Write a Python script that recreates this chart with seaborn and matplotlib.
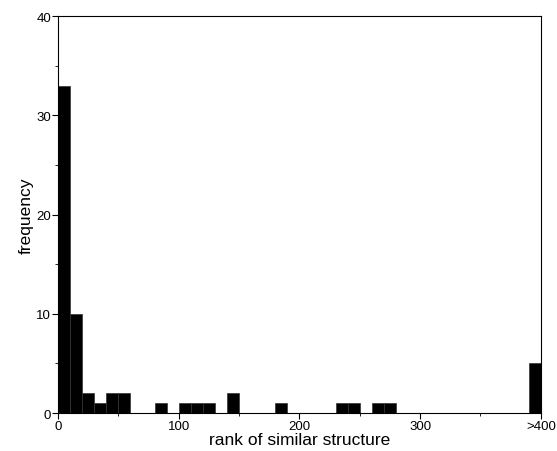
import numpy as np
import pandas as pd
import matplotlib
matplotlib.use('Agg')
import matplotlib.pyplot as plt
import seaborn as sns
from matplotlib.ticker import MultipleLocator

sns.set_style('ticks')
plt.rcParams['font.family'] = ['Liberation Sans', 'DejaVu Sans']

# bin starts (width 10) and counts
bin_left = [0, 10, 20, 30, 40, 50, 80, 100, 110, 120, 140, 180, 230, 240, 260, 270, 390]
counts = [33, 10, 2, 1, 2, 2, 1, 1, 1, 1, 2, 1, 1, 1, 1, 1, 5]
xtick_vals = [0, 100, 200, 300, 400]
xtick_labels = ['0', '100', '200', '300', '>400']

df = pd.DataFrame({'mid': np.array(bin_left) + 5, 'n': counts})

fig = plt.figure(figsize=(5.57, 4.52), dpi=100)
ax = fig.add_axes([0.104, 0.084, 0.867, 0.878])

sns.histplot(data=df, x='mid', weights='n', binwidth=10, binrange=(0, 400),
             color='black', edgecolor='#333333', linewidth=0.5, alpha=1, ax=ax)

ax.set_xlim(0, 400)
ax.set_ylim(0, 40)
ax.set_xticks(xtick_vals)
ax.set_xticklabels(xtick_labels)
ax.set_yticks([0, 10, 20, 30, 40])
ax.xaxis.set_minor_locator(MultipleLocator(50))
ax.yaxis.set_minor_locator(MultipleLocator(5))
ax.tick_params(axis='both', which='major', length=4, width=0.8, labelsize=9.5, pad=1,
               color='black', labelcolor='black')
ax.tick_params(axis='both', which='minor', length=2.5, width=0.6, color='black')
for s in ax.spines.values():
    s.set_linewidth(0.8)
    s.set_color('black')

ax.set_xlabel('rank of similar structure', fontsize=12.5, labelpad=0, color='black')
ax.set_ylabel('frequency', fontsize=12.5, labelpad=2, color='black')

fig.savefig('out.png', dpi=100)
